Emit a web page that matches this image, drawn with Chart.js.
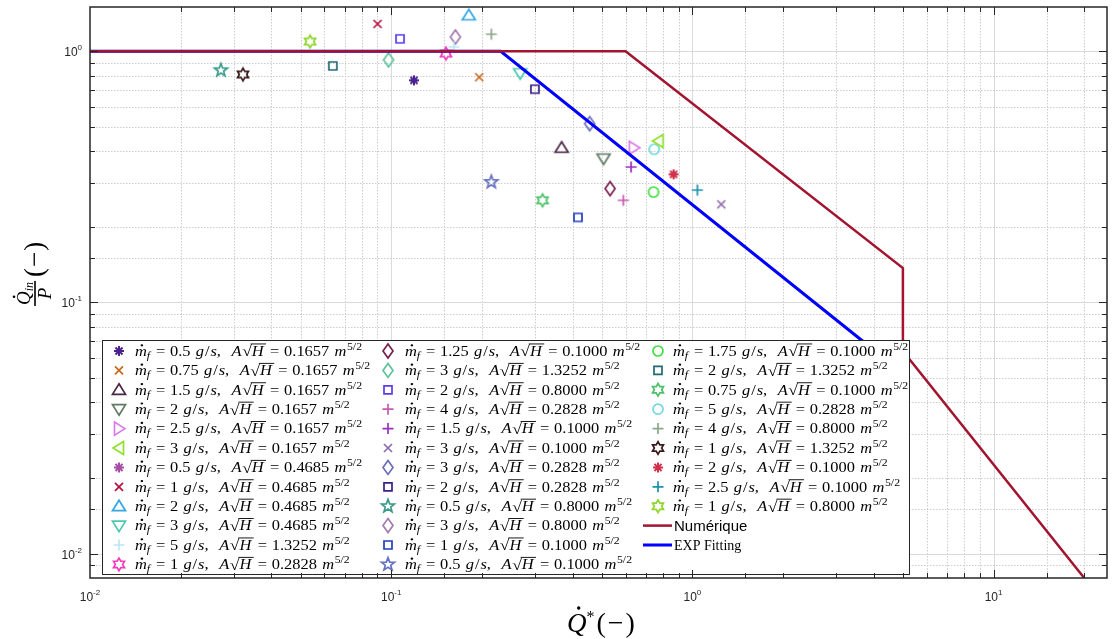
<!DOCTYPE html>
<html>
<head>
<meta charset="utf-8">
<script src="https://cdn.jsdelivr.net/npm/chart.js@4/dist/chart.umd.min.js"></script>
<style>
  html, body { margin: 0; padding: 0; background: #fff; }
</style>
</head>
<body>
<canvas id="myChart" width="1113" height="639"></canvas>
<script>
// experimental points, one per legend entry
const massFlow = ['0.5', '0.75', '1.5', '2', '2.5', '3', '0.5', '1', '2', '3', '5', '1',
                  '1.25', '3', '2', '4', '1.5', '3', '3', '2', '0.5', '3', '1', '0.5',
                  '1.75', '2', '0.75', '5', '4', '1', '2', '2.5', '1']
const aSqrtH = ['0.1657', '0.1657', '0.1657', '0.1657', '0.1657', '0.1657', '0.4685', '0.4685', '0.4685', '0.4685', '1.3252', '0.2828',
                '0.1000', '1.3252', '0.8000', '0.2828', '0.1000', '0.1000', '0.2828', '0.2828', '0.8000', '0.8000', '0.1000', '0.1000',
                '0.1000', '1.3252', '0.1000', '0.2828', '0.8000', '1.3252', '0.1000', '0.1000', '0.8000']
const qStar = [0.119, 0.196, 0.368, 0.507, 0.639, 0.772, null, 0.0901, 0.181, 0.268, 0.1614, 0.152,
               0.533, 0.098, 0.107, 0.590, 0.626, 1.247, 0.456, 0.300, 0.0272, 0.1634, 0.417, 0.215,
               0.743, 0.064, 0.318, 0.747, 0.215, 0.0322, 0.866, 1.039, 0.0538]
const qRatio = [0.766, 0.788, 0.413, 0.374, 0.413, 0.439, null, 1.285, 1.39, 0.817, 1.04, 0.979,
                0.284, 0.924, 1.12, 0.255, 0.346, 0.2457, 0.515, 0.706, 0.840, 1.14, 0.218, 0.3015,
                0.275, 0.874, 0.255, 0.407, 1.169, 0.808, 0.3236, 0.280, 1.093]

// model curves
const numX = [0.01, 0.6, 5, 5, 20]
const numY = [1, 1, 0.137, 0.064, 0.008]
const fitX = [0.01, 0.231, 4.5]
const fitY = [1, 1, 0.0578]

const xTicks = [0.01, 0.1, 1, 10]
const yTicks = [0.01, 0.1, 1]

// styles
const markerTypes = ['asterisk', 'x', 'triUp', 'triDown', 'triRight', 'triLeft', 'asterisk', 'x', 'triUp', 'triDown', 'plus', 'hexagram',
                     'diamond', 'diamond', 'square', 'plus', 'plus', 'x', 'diamond', 'square', 'pentagram', 'diamond', 'square', 'pentagram',
                     'circle', 'square', 'hexagram', 'circle', 'plus', 'hexagram', 'asterisk', 'plus', 'hexagram']
const colors = ['#4B2391', '#C8691C', '#4A2545', '#5E7A66', '#DA7BEA', '#8EE02A', '#A64CA6', '#B5123E', '#33A8E0', '#4CC9B0', '#BDE6F5', '#F23DBA',
                '#7A1F4F', '#5CC49A', '#5B3BF0', '#C85AB4', '#9B30C0', '#8C6BB0', '#6A6FB8', '#3A1F8A', '#3A9A8A', '#A47AAE', '#1F3FC0', '#6670C0',
                '#3EE03E', '#1F6B70', '#4CC06A', '#6ED8DC', '#8CA88A', '#3A1A1A', '#D0304A', '#1E90B0', '#8ED62A']

const SERIF = '"Liberation Serif", "Times New Roman", serif'
const SANS = '"Liberation Sans", Arial, sans-serif'
const isPow10 = v => Math.abs(Math.log10(v) - Math.round(Math.log10(v))) < 1e-9

function drawMarker(ctx, type, x, y, color) {
  ctx.save()
  ctx.translate(x, y)
  ctx.strokeStyle = color
  ctx.lineWidth = 1.7
  ctx.lineJoin = 'miter'
  ctx.beginPath()
  if (type === 'asterisk') {
    ctx.lineWidth = 2
    for (let k = 0; k < 4; k++) {
      const a = k * Math.PI / 4
      ctx.moveTo(-5 * Math.cos(a), -5 * Math.sin(a))
      ctx.lineTo(5 * Math.cos(a), 5 * Math.sin(a))
    }
  } else if (type === 'x') {
    ctx.moveTo(-4, -4); ctx.lineTo(4, 4)
    ctx.moveTo(-4, 4); ctx.lineTo(4, -4)
  } else if (type === 'plus') {
    ctx.moveTo(-5.5, 0); ctx.lineTo(5.5, 0)
    ctx.moveTo(0, -5.5); ctx.lineTo(0, 5.5)
  } else if (type === 'square') {
    ctx.rect(-4, -4, 8, 8)
  } else if (type === 'circle') {
    ctx.arc(0, 0, 5, 0, Math.PI * 2)
  } else if (type === 'diamond') {
    ctx.moveTo(0, -7); ctx.lineTo(5, 0); ctx.lineTo(0, 7); ctx.lineTo(-5, 0); ctx.closePath()
  } else if (type === 'triUp') {
    ctx.moveTo(0, -6); ctx.lineTo(6.5, 4.5); ctx.lineTo(-6.5, 4.5); ctx.closePath()
  } else if (type === 'triDown') {
    ctx.moveTo(0, 6); ctx.lineTo(6.5, -4.5); ctx.lineTo(-6.5, -4.5); ctx.closePath()
  } else if (type === 'triRight') {
    ctx.moveTo(6, 0); ctx.lineTo(-4.5, -6.5); ctx.lineTo(-4.5, 6.5); ctx.closePath()
  } else if (type === 'triLeft') {
    ctx.moveTo(-6, 0); ctx.lineTo(4.5, -6.5); ctx.lineTo(4.5, 6.5); ctx.closePath()
  } else if (type === 'pentagram' || type === 'hexagram') {
    const n = type === 'pentagram' ? 5 : 6
    const R = type === 'pentagram' ? 6.8 : 6.3
    const r = type === 'pentagram' ? R * 0.42 : R * 0.577
    for (let k = 0; k < 2 * n; k++) {
      const a = -Math.PI / 2 + k * Math.PI / n
      const rr = k % 2 === 0 ? R : r
      if (k === 0) ctx.moveTo(rr * Math.cos(a), rr * Math.sin(a))
      else ctx.lineTo(rr * Math.cos(a), rr * Math.sin(a))
    }
    ctx.closePath()
  }
  ctx.stroke()
  ctx.restore()
}

function markerCanvas(type, color) {
  const c = document.createElement('canvas')
  c.width = 20
  c.height = 20
  drawMarker(c.getContext('2d'), type, 10, 10, color)
  return c
}

// little LaTeX-like writer, draw=false only measures
function writer(ctx, x, y, draw) {
  let cx = x
  return {
    put(t, font, dy) {
      ctx.font = font
      if (draw !== false) ctx.fillText(t, cx, y + (dy || 0))
      const w = ctx.measureText(t).width
      cx += w
      return [cx - w, w]
    },
    skip(d) { cx += d },
    get x() { return cx }
  }
}

function drawLabel(ctx, mf, ah, draw) {
  const R = '14px ' + SERIF
  const I = 'italic 14px ' + SERIF
  const Rs = '10px ' + SERIF
  const Is = 'italic 10px ' + SERIF
  const w = writer(ctx, 0, 0, draw)
  const [mx, mw] = w.put('m', I)
  if (draw !== false) {
    ctx.beginPath()
    ctx.arc(mx + mw * 0.58, -10.5, 1.1, 0, Math.PI * 2)
    ctx.fill()
  }
  w.put('f', Is, 3)
  w.skip(5)
  w.put('=', R)
  w.skip(4)
  w.put(mf, R)
  w.skip(4.5)
  w.put('g', I); w.skip(0.8)
  w.put('/', R); w.skip(0.8)
  w.put('s', I)
  w.put(',', R)
  w.skip(9)
  w.put('A', I)
  w.skip(0.5)
  const [rx, rw] = w.put('\u221A', '15px ' + SERIF, 0.5)
  const [hx, hw] = w.put('H', I)
  if (draw !== false) ctx.fillRect(rx + rw - 1, -12.3, hw + 3, 0.9)
  w.skip(5.5)
  w.put('=', R)
  w.skip(4)
  w.put(ah, R)
  w.skip(4.5)
  w.put('m', I)
  w.skip(0.5)
  w.put('5/2', Rs, -6)
  return w.x
}

let labelScale = null

function drawLegend(ctx) {
  const bx = 102, by = 340, bw = 807, bh = 234
  ctx.save()
  ctx.fillStyle = '#fff'
  ctx.fillRect(bx, by, bw, bh)
  ctx.strokeStyle = '#262626'
  ctx.lineWidth = 1
  ctx.strokeRect(bx + 0.5, by + 0.5, bw, bh)
  ctx.textAlign = 'left'
  ctx.textBaseline = 'alphabetic'
  if (labelScale === null) labelScale = 227 / drawLabel(ctx, massFlow[0], aSqrtH[0], false)
  const markX = [119, 388, 658]
  const textX = [135, 405, 673]
  for (let i = 0; i < massFlow.length; i++) {
    const col = Math.floor(i / 12)
    const row = i % 12
    const cy = 351 + row * 19.4
    drawMarker(ctx, markerTypes[i], markX[col], cy, colors[i])
    ctx.save()
    ctx.translate(textX[col], cy + 4.8)
    ctx.scale(labelScale, 1)
    ctx.fillStyle = '#000'
    drawLabel(ctx, massFlow[i], aSqrtH[i])
    ctx.restore()
  }
  const rows = [[9, '#A2142F', 2.5, 'Numérique', '15px ' + SANS], [10, '#0000FF', 3, 'EXP Fitting', '14px ' + SERIF]]
  rows.forEach(([row, col, lw, txt, font]) => {
    const cy = 351 + row * 19.4
    ctx.strokeStyle = col
    ctx.lineWidth = lw
    ctx.beginPath()
    ctx.moveTo(643, cy)
    ctx.lineTo(672, cy)
    ctx.stroke()
    ctx.fillStyle = '#000'
    ctx.font = font
    ctx.fillText(txt, 674, cy + 5)
  })
  ctx.restore()
}

function drawGrid(chart) {
  const ctx = chart.ctx
  const a = chart.chartArea
  const xs = chart.scales.x, ys = chart.scales.y
  ctx.save()
  ctx.lineWidth = 1
  const line = (x1, y1, x2, y2, major) => {
    ctx.strokeStyle = major ? '#dadada' : '#cdcdcd'
    ctx.setLineDash(major ? [] : [1.5, 1.5])
    ctx.beginPath()
    ctx.moveTo(x1, y1)
    ctx.lineTo(x2, y2)
    ctx.stroke()
  }
  xs.ticks.forEach(t => {
    if (t.value <= xs.min || t.value >= xs.max) return
    const px = Math.round(xs.getPixelForValue(t.value)) + 0.5
    line(px, a.top, px, a.bottom, isPow10(t.value))
  })
  ys.ticks.forEach(t => {
    if (t.value <= ys.min || t.value >= ys.max) return
    const py = Math.round(ys.getPixelForValue(t.value)) + 0.5
    line(a.left, py, a.right, py, isPow10(t.value))
  })
  ctx.restore()
}

function drawAxesDecor(chart) {
  const ctx = chart.ctx
  const a = chart.chartArea
  const xs = chart.scales.x, ys = chart.scales.y
  ctx.save()
  ctx.strokeStyle = '#262626'
  ctx.lineWidth = 1
  xs.ticks.forEach(t => {
    if (t.value <= xs.min || t.value >= xs.max) return
    const px = Math.round(xs.getPixelForValue(t.value)) + 0.5
    const len = isPow10(t.value) ? 8 : 5
    ctx.beginPath()
    ctx.moveTo(px, a.bottom); ctx.lineTo(px, a.bottom - len)
    ctx.moveTo(px, a.top); ctx.lineTo(px, a.top + len)
    ctx.stroke()
  })
  ys.ticks.forEach(t => {
    if (t.value <= ys.min || t.value >= ys.max) return
    const py = Math.round(ys.getPixelForValue(t.value)) + 0.5
    const len = isPow10(t.value) ? 8 : 5
    ctx.beginPath()
    ctx.moveTo(a.left, py); ctx.lineTo(a.left + len, py)
    ctx.moveTo(a.right, py); ctx.lineTo(a.right - len, py)
    ctx.stroke()
  })
  ctx.lineWidth = 1.5
  ctx.strokeRect(a.left, a.top, a.right - a.left, a.bottom - a.top)

  // tick labels 10^n
  ctx.fillStyle = '#262626'
  ctx.textBaseline = 'alphabetic'
  ctx.textAlign = 'left'
  const big = '12px ' + SANS, small = '8px ' + SANS
  const sup = v => String(Math.round(Math.log10(v)))
  xTicks.forEach(v => {
    const px = xs.getPixelForValue(v)
    ctx.font = big
    const w1 = ctx.measureText('10').width
    ctx.font = small
    const w2 = ctx.measureText(sup(v)).width
    const x0 = px - (w1 + w2) / 2
    ctx.font = big
    ctx.fillText('10', x0, 601)
    ctx.font = small
    ctx.fillText(sup(v), x0 + w1, 595)
  })
  yTicks.forEach(v => {
    const py = ys.getPixelForValue(v)
    ctx.font = small
    const w2 = ctx.measureText(sup(v)).width
    ctx.font = big
    const w1 = ctx.measureText('10').width
    const x0 = 82 - w1 - w2
    ctx.fillText('10', x0, py + 5)
    ctx.font = small
    ctx.fillText(sup(v), x0 + w1, py - 1)
  })

  // x title  Q̇*(−)
  ctx.fillStyle = '#000'
  let w = writer(ctx, 567, 632)
  const [qx, qw] = w.put('Q', 'italic 27px ' + SERIF)
  ctx.beginPath()
  ctx.arc(qx + qw * 0.6, 608, 1.7, 0, Math.PI * 2)
  ctx.fill()
  w.put('*', '16px ' + SERIF, -10)
  w.skip(2)
  w.put('(', '28px ' + SERIF)
  w.skip(2)
  w.put('\u2212', '28px ' + SERIF)
  w.skip(2)
  w.put(')', '28px ' + SERIF)

  // y title  Q̇_in / P (−)
  ctx.save()
  ctx.translate(35, 306)
  ctx.rotate(-Math.PI / 2)
  w = writer(ctx, 1, -5)
  const [q2x, q2w] = w.put('Q', 'italic 19px ' + SERIF)
  ctx.beginPath()
  ctx.arc(q2x + q2w * 0.6, -21, 1.3, 0, Math.PI * 2)
  ctx.fill()
  w.put('in', 'italic 12px ' + SERIF, 3)
  const fracW = w.x + 1
  ctx.fillRect(0, -0.8, fracW, 1.6)
  ctx.font = 'italic 19px ' + SERIF
  const pw = ctx.measureText('P').width
  ctx.fillText('P', (fracW - pw) / 2, 16)
  w = writer(ctx, fracW + 4, 8)
  w.put('(', '27px ' + SERIF)
  w.skip(1)
  w.put('\u2212', '27px ' + SERIF)
  w.skip(1)
  w.put(')', '27px ' + SERIF)
  ctx.restore()
  ctx.restore()
}

const decor = {
  id: 'decor',
  beforeDatasetsDraw(chart) { drawGrid(chart) },
  afterDatasetsDraw(chart) { drawLegend(chart.ctx) },
  afterDraw(chart) { drawAxesDecor(chart) }
}

const datasets = []
datasets.push({
  label: 'Numérique', type: 'line', order: 0,
  data: numX.map((x, i) => ({ x: x, y: numY[i] })),
  borderColor: '#A2142F', borderWidth: 2.5, pointRadius: 0, fill: false, tension: 0
})
datasets.push({
  label: 'EXP Fitting', type: 'line', order: 0,
  data: fitX.map((x, i) => ({ x: x, y: fitY[i] })),
  borderColor: '#0000FF', borderWidth: 3, pointRadius: 0, fill: false, tension: 0
})
massFlow.forEach((m, i) => {
  datasets.push({
    label: 'm_f = ' + m + ' g/s, A√H = ' + aSqrtH[i],
    type: 'scatter', order: 1,
    data: qStar[i] === null ? [] : [{ x: qStar[i], y: qRatio[i] }],
    pointStyle: markerCanvas(markerTypes[i], colors[i]),
    pointRadius: 5
  })
})

new Chart(document.getElementById('myChart'), {
  type: 'scatter',
  data: { datasets: datasets },
  options: {
    responsive: false,
    animation: false,
    events: [],
    layout: { padding: { top: 7, right: 1, left: 0, bottom: 0 } },
    plugins: { legend: { display: false }, tooltip: { enabled: false } },
    scales: {
      x: {
        type: 'logarithmic', min: 0.01, max: 23.8,
        ticks: { display: false },
        grid: { display: false },
        border: { display: false },
        afterFit: s => { s.height = 61 }
      },
      y: {
        type: 'logarithmic', min: 0.008, max: 1.5,
        ticks: { display: false },
        grid: { display: false },
        border: { display: false },
        afterFit: s => { s.width = 90 }
      }
    }
  },
  plugins: [decor]
})
</script>
</body>
</html>
